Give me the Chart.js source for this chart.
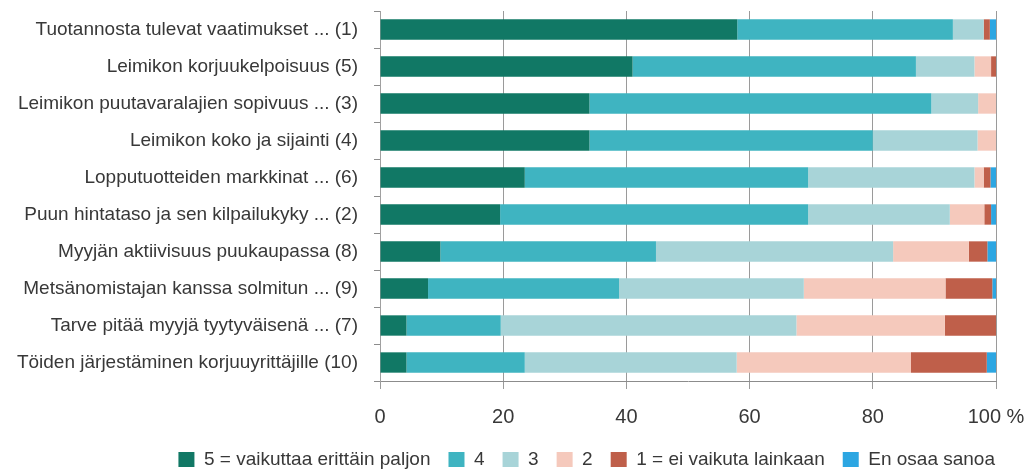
<!DOCTYPE html>
<html>
<head>
<meta charset="utf-8">
<script src="https://cdn.jsdelivr.net/npm/chart.js@4/dist/chart.umd.min.js"></script>
<style>
  html, body { margin: 0; padding: 0; background: #fff; }
  #wrap { width: 1028px; height: 471px; }
</style>
</head>
<body>
<div id="wrap"><canvas id="chart" width="1028" height="471"></canvas></div>
<script>
// tekijät
const categories = [
    "Tuotannosta tulevat vaatimukset ... (1)",
    "Leimikon korjuukelpoisuus (5)",
    "Leimikon puutavaralajien sopivuus ... (3)",
    "Leimikon koko ja sijainti (4)",
    "Lopputuotteiden markkinat ... (6)",
    "Puun hintataso ja sen kilpailukyky ... (2)",
    "Myyjän aktiivisuus puukaupassa (8)",
    "Metsänomistajan kanssa solmitun ... (9)",
    "Tarve pitää myyjä tyytyväisenä ... (7)",
    "Töiden järjestäminen korjuuyrittäjille (10)"
];

// osuudet (%), luettu kuvasta
const v5  = [58, 41, 34, 34, 23.5, 19.5, 9.8, 7.8, 4.3, 4.3];
const v4  = [35, 46, 55.5, 46, 46, 50, 35, 31, 15.3, 19.2];
const v3  = [5, 9.5, 7.6, 17, 27, 23, 38.5, 30, 48, 34.4];
const v2  = [0, 2.7, 2.9, 3, 1.5, 5.6, 12.3, 23, 24.1, 28.3];
const v1  = [1, 0.8, 0, 0, 1.1, 1.1, 3, 7.6, 8.3, 12.3];
const eos = [1, 0, 0, 0, 0.9, 0.8, 1.4, 0.6, 0, 1.5];

const seriesLabels = [
    "5 = vaikuttaa erittäin paljon",
    "4",
    "3",
    "2",
    "1 = ei vaikuta lainkaan",
    "En osaa sanoa"
];
const seriesColors = ["#117865", "#3fb4c1", "#a8d4d8", "#f5c9bc", "#bf5f4a", "#2ca6e2"];
const xTicks = [0, 20, 40, 60, 80, 100];

const allValues = [v5, v4, v3, v2, v1, eos];
const textColor = "#383838";
const fontFamily = "'Liberation Sans', Arial, sans-serif";

// selite lähemmäs alareunaa: pienennetään legendin korkeutta sovituksen jälkeen
const LegendEl = Chart.registry.getPlugin("legend")._element;
const origFit = LegendEl.prototype.fit;
LegendEl.prototype.fit = function () {
    origFit.call(this);
    if (this.isHorizontal()) this.height -= 8;
};

// siirretään selitettä hieman oikealle
const legendShift = {
    id: "legendShift",
    afterLayout(chart) {
        if (chart.legend) {
            chart.legend.left += 17;
            chart.legend.right += 17;
        }
    }
};

const ctx = document.getElementById("chart").getContext("2d");
new Chart(ctx, {
    type: "bar",
    data: {
        labels: categories,
        datasets: allValues.map((vals, i) => ({
            label: seriesLabels[i],
            data: vals,
            backgroundColor: seriesColors[i],
            borderWidth: 0,
            categoryPercentage: 1,
            barPercentage: 0.55
        }))
    },
    options: {
        indexAxis: "y",
        responsive: false,
        animation: false,
        layout: { padding: { top: 11, right: 32, left: 0, bottom: 0 } },
        scales: {
            x: {
                stacked: true,
                min: 0,
                max: 100,
                afterBuildTicks: axis => { axis.ticks = xTicks.map(v => ({ value: v })); },
                afterFit: axis => {
                    axis.height = 51;
                    axis.paddingLeft = 0;
                    axis.paddingRight = 0;
                },
                border: { display: true, color: "#8c8c8c", width: 1 },
                grid: {
                    color: "#9a9a9a",
                    lineWidth: 1,
                    drawTicks: true,
                    tickLength: 8
                },
                ticks: {
                    color: textColor,
                    padding: 16,
                    font: { family: fontFamily, size: 20 },
                    callback: v => v === 100 ? "100 %" : v
                }
            },
            y: {
                stacked: true,
                afterFit: axis => {
                    axis.width = 380;
                    axis.paddingTop = 0;
                    axis.paddingBottom = 0;
                },
                border: { display: true, color: "#a0a0a0", width: 1 },
                grid: {
                    offset: true,
                    drawOnChartArea: false,
                    drawTicks: true,
                    tickLength: 6,
                    color: "#8c8c8c"
                },
                ticks: {
                    color: textColor,
                    padding: 16,
                    font: { family: fontFamily, size: 19 }
                }
            }
        },
        plugins: {
            legend: {
                position: "bottom",
                align: "end",
                labels: {
                    color: textColor,
                    boxWidth: 16,
                    boxHeight: 15,
                    padding: 18,
                    font: { family: fontFamily, size: 19 }
                }
            },
            tooltip: { enabled: false }
        }
    },
    plugins: [legendShift]
});
</script>
</body>
</html>
